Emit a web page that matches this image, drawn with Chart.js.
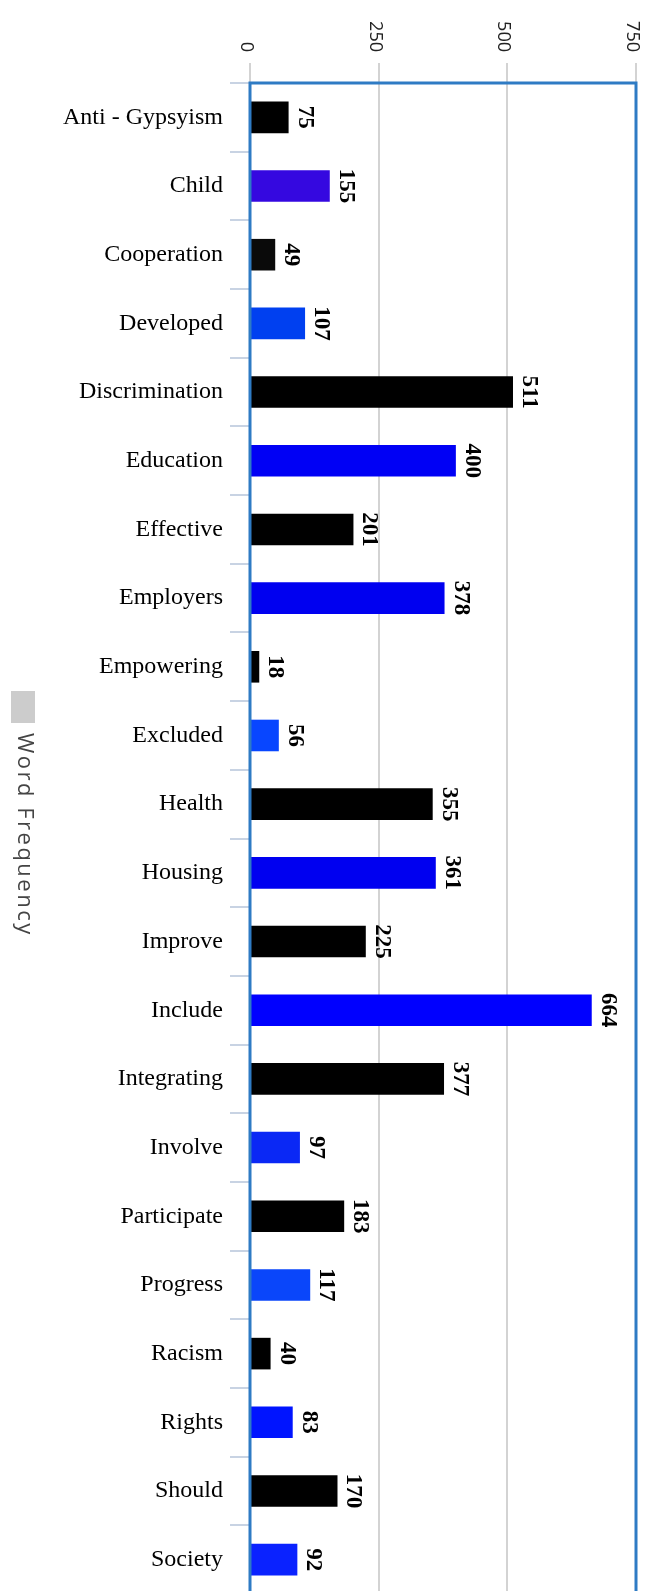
<!DOCTYPE html>
<html>
<head>
<meta charset="utf-8">
<script src="https://cdn.jsdelivr.net/npm/chart.js@4.4.1/dist/chart.umd.min.js"></script>
<style>
  html, body { margin: 0; padding: 0; background: #fff; overflow: hidden; }
  #wrap { position: relative; width: 650px; height: 1597px; }
</style>
</head>
<body>
<div id="wrap"><canvas id="freqChart"></canvas></div>
<script>
const words = [
    'Anti - Gypsyism', 'Child', 'Cooperation', 'Developed', 'Discrimination',
    'Education', 'Effective', 'Employers', 'Empowering', 'Excluded', 'Health',
    'Housing', 'Improve', 'Include', 'Integrating', 'Involve', 'Participate',
    'Progress', 'Racism', 'Rights', 'Should', 'Society'
];
const counts = [75, 155, 49, 107, 511, 400, 201, 378, 18, 56, 355, 361, 225, 664, 377, 97, 183, 117, 40, 83, 170, 92];
const valueTicks = [0, 250, 500, 750];
const seriesName = 'Word Frequency';

// one colour per bar, black and blue alternating
const barColors = [
    '#000000', '#3508e0', '#0a0a0a', '#0040f0', '#000000', '#0000f5',
    '#000000', '#0000f0', '#000000', '#0846ff', '#000000', '#0000f0',
    '#000000', '#0000ff', '#000000', '#0a28f5', '#000000', '#0a46fa',
    '#000000', '#0014ff', '#000000', '#0a22ff'
];

// frame, rotated axis labels, rotated value labels and the side legend
const sideText = {
    id: 'sideText',
    afterDatasetsDraw(chart) {
        const c = chart.ctx;
        const area = chart.chartArea;
        const xs = chart.scales.x;

        c.save();
        c.strokeStyle = '#2e7bc4';
        c.lineWidth = 3;
        c.strokeRect(area.left, area.top, area.right - area.left, area.bottom - area.top);

        // value axis labels, reading downwards
        c.font = '18px "Open Sans"';
        c.fillStyle = '#222';
        valueTicks.forEach(v => {
            c.save();
            c.translate(xs.getPixelForValue(v) - 4, 52);
            c.rotate(Math.PI / 2);
            c.textAlign = 'right';
            c.textBaseline = 'middle';
            c.fillText(String(v), 0, 0);
            c.restore();
        });

        // value next to each bar
        c.font = 'bold 23px "Liberation Serif"';
        c.fillStyle = '#000';
        chart.getDatasetMeta(0).data.forEach((bar, i) => {
            c.save();
            c.translate(bar.x + 10, bar.y);
            c.rotate(Math.PI / 2);
            c.textAlign = 'center';
            c.textBaseline = 'alphabetic';
            c.fillText(String(counts[i]), 0, 0);
            c.restore();
        });

        // legend
        c.fillStyle = '#cccccc';
        c.fillRect(11, 691, 24, 32);
        c.save();
        c.translate(18, 733);
        c.rotate(Math.PI / 2);
        c.font = '22px "Open Sans"';
        c.letterSpacing = '2.5px';
        c.fillStyle = '#444';
        c.textAlign = 'left';
        c.textBaseline = 'alphabetic';
        c.fillText(seriesName, 0, 0);
        c.restore();
        c.restore();
    }
};

const ctx = document.getElementById('freqChart').getContext('2d');
const freqChart = new Chart(ctx, {
    type: 'bar',
    data: {
        labels: words,
        datasets: [
            {
                label: seriesName,
                data: counts,
                backgroundColor: barColors,
                borderWidth: 0,
                categoryPercentage: 1,
                barPercentage: 0.46
            }
        ]
    },
    options: {
        indexAxis: 'y',
        responsive: true,
        maintainAspectRatio: false,
        animation: false,
        layout: {
            padding: { left: 0, right: 14, top: 0, bottom: 3 }
        },
        plugins: {
            legend: { display: false },
            tooltip: { enabled: false }
        },
        scales: {
            x: {
                position: 'top',
                min: 0,
                max: 750,
                afterFit: scale => { scale.height = 83; },
                grid: {
                    color: '#d3d3d3',
                    lineWidth: 2,
                    drawTicks: true,
                    tickLength: 20
                },
                border: { display: false },
                ticks: { stepSize: 250, display: false }
            },
            y: {
                afterFit: scale => {
                    scale.width = 250;
                    scale.paddingTop = 0;
                    scale.paddingBottom = 0;
                },
                grid: {
                    drawOnChartArea: false,
                    drawTicks: true,
                    tickLength: 20,
                    color: '#c8d3e3',
                    lineWidth: 2
                },
                border: { display: false },
                ticks: {
                    color: '#000',
                    padding: 7,
                    font: { family: 'Liberation Serif', size: 24 }
                }
            }
        }
    },
    plugins: [sideText]
});
</script>
</body>
</html>
